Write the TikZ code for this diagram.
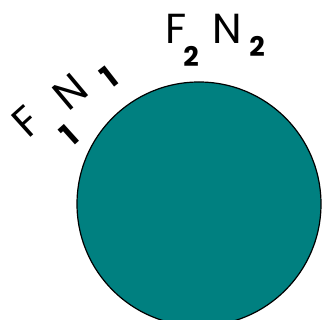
\documentclass[tikz,border=0pt]{standalone}
\usepackage{fontspec}
\setmainfont{Poppins}
\definecolor{tealfill}{RGB}{0,128,128}
\begin{document}
\begin{tikzpicture}[x=1pt,y=1pt,
  big/.style={inner sep=0pt,text depth=0pt,font=\fontsize{42}{42}\selectfont},
  small/.style={inner sep=0pt,text depth=0pt,font=\fontsize{27}{27}\selectfont\bfseries},
  one/.style={inner sep=0pt,text depth=0pt,font=\fontsize{31}{31}\selectfont\bfseries}]
\useasboundingbox (0,0) rectangle (327,320);
\begin{scope}
\clip (0,0) rectangle (327,320);
\node[circle,draw=black,line width=1.2pt,fill=tealfill,minimum size=244pt,inner sep=0pt] (ball) at (199,116) {};
\end{scope}
\node[big] (f2) at (176,291) {F};
\node[small] (s2a) at (191,264) {2};
\node[big] (n2) at (227,291) {N};
\node[small] (s2b) at (257,274) {2};
\node[big,rotate=42] (f1) at (27,198) {F};
\node[one,rotate=42] (s1a) at (69,185) {1};
\node[big,rotate=40] (n1) at (70,228) {N};
\node[one,rotate=38] (s1b) at (109,243) {1};
\end{tikzpicture}
\end{document}
